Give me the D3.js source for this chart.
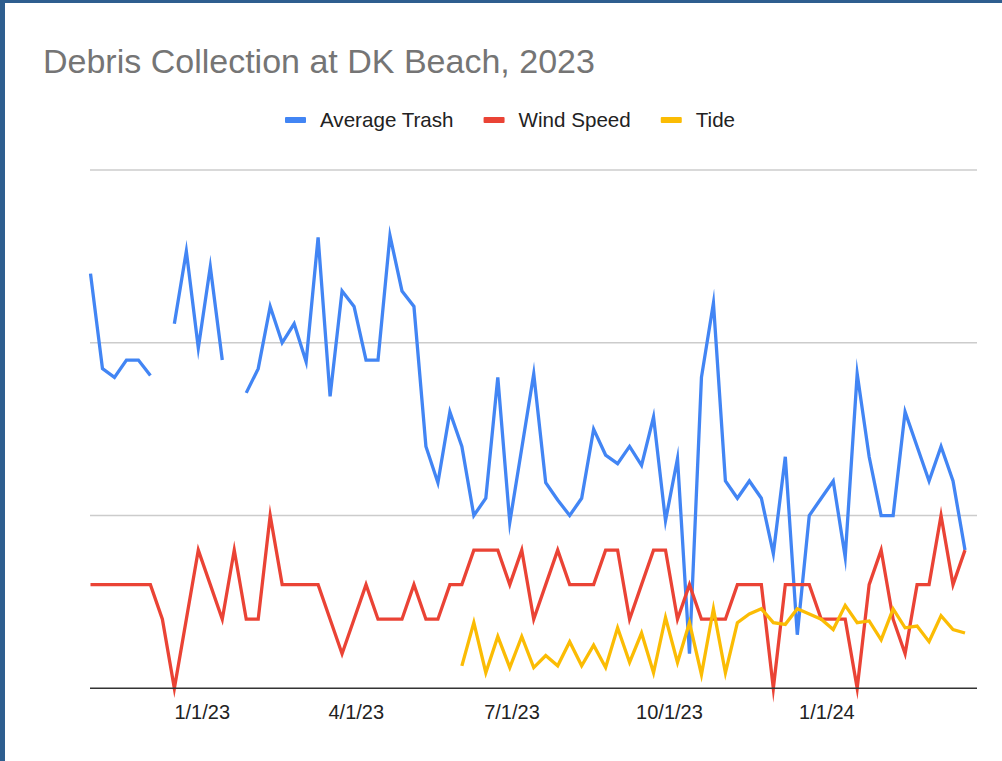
<!DOCTYPE html>
<html>
<head>
<meta charset="utf-8">
<script src="https://cdn.jsdelivr.net/npm/d3@7"></script>
<style>
  html, body { margin: 0; padding: 0; background: #fff; }
  svg { display: block; }
  text { font-family: "Liberation Sans", Arial, sans-serif; }
</style>
</head>
<body>
<svg id="chart" width="1002" height="761"></svg>
<script>
// ---- data ----
const dates = [
  "2022-10-28","2022-11-04","2022-11-11","2022-11-18","2022-11-25","2022-12-02","2022-12-09","2022-12-16",
  "2022-12-23","2022-12-30","2023-01-06","2023-01-13","2023-01-20","2023-01-27","2023-02-03","2023-02-10",
  "2023-02-17","2023-02-24","2023-03-03","2023-03-10","2023-03-17","2023-03-24","2023-03-31","2023-04-07",
  "2023-04-14","2023-04-21","2023-04-28","2023-05-05","2023-05-12","2023-05-19","2023-05-26","2023-06-02",
  "2023-06-09","2023-06-16","2023-06-23","2023-06-30","2023-07-07","2023-07-14","2023-07-21","2023-07-28",
  "2023-08-04","2023-08-11","2023-08-18","2023-08-25","2023-09-01","2023-09-08","2023-09-15","2023-09-22",
  "2023-09-29","2023-10-06","2023-10-13","2023-10-20","2023-10-27","2023-11-03","2023-11-10","2023-11-17",
  "2023-11-24","2023-12-01","2023-12-08","2023-12-15","2023-12-22","2023-12-29","2024-01-05","2024-01-12",
  "2024-01-19","2024-01-26","2024-02-02","2024-02-09","2024-02-16","2024-02-23","2024-03-01","2024-03-08",
  "2024-03-15","2024-03-22"
];

const averageTrash = [
  24.0, 18.5, 18.0, 19.0, 19.0, 18.1, null, 21.1, 25.3, 19.7, 24.4, 19.0, null, 17.1, 18.5, 22.1,
  20.0, 21.1, 18.9, 26.1, 16.9, 23.0, 22.1, 19.0, 19.0, 26.2, 23.0, 22.1, 14.0, 11.9, 16.0, 14.0,
  10.0, 11.0, 18.0, 9.6, 13.9, 18.2, 11.9, 10.9, 10.0, 11.0, 15.0, 13.5, 13.0, 14.0, 12.9, 15.7,
  9.7, 13.3, 2.0, 18.0, 22.3, 12.0, 11.0, 12.0, 11.0, 7.8, 13.4, 3.1, 10.0, 11.0, 12.0, 7.6,
  18.2, 13.4, 10.0, 10.0, 16.0, 14.0, 12.0, 14.0, 12.0, 8.0
];

const windSpeed = [
  6, 6, 6, 6, 6, 6, 4, 0, 4, 8, 6, 4, 8, 4, 4, 10,
  6, 6, 6, 6, 4, 2, 4, 6, 4, 4, 4, 6, 4, 4, 6, 6,
  8, 8, 8, 6, 8, 4, 6, 8, 6, 6, 6, 8, 8, 4, 6, 8,
  8, 4, 6, 4, 4, 4, 6, 6, 6, 0, 6, 6, 6, 4, 4, 4,
  0, 6, 8, 4, 2, 6, 6, 10, 6, 8
];

const tide = [
  null, null, null, null, null, null, null, null, null, null, null, null, null, null, null, null,
  null, null, null, null, null, null, null, null, null, null, null, null, null, null, null, 1.3,
  3.8, 0.9, 3.0, 1.2, 3.0, 1.2, 1.9, 1.3, 2.7, 1.3, 2.5, 1.2, 3.5, 1.5, 3.2, 0.9,
  4.1, 1.5, 3.8, 0.8, 4.6, 0.9, 3.8, 4.3, 4.6, 3.8, 3.7, 4.6, 4.3, 4.0, 3.4, 4.8,
  3.8, 3.9, 2.8, 4.6, 3.5, 3.6, 2.7, 4.2, 3.4, 3.2
];

const tickLabels = ["2023-01-01", "2023-04-01", "2023-07-01", "2023-10-01", "2024-01-01"];
const yGrid = [0, 10, 20, 30];

const seriesNames = ["Average Trash", "Wind Speed", "Tide"];
const seriesColors = ["#4285f4", "#ea4335", "#fbbc04"];

// ---- chart ----
const parse = d3.utcParse("%Y-%m-%d");
const xDates = dates.map(parse);
const svg = d3.select("#chart");

const plotLeft = 90, plotRight = 977;
const x = d3.scaleUtc()
  .domain(d3.extent(xDates))
  .range([90.5, 965]);
const y = d3.scaleLinear().domain([0, 30]).range([688.3, 170]);

// frame borders
svg.append("rect").attr("x", 0).attr("y", 0).attr("width", 1002).attr("height", 761).attr("fill", "#fff");
svg.append("rect").attr("x", 0).attr("y", 0).attr("width", 1002).attr("height", 3).attr("fill", "#2e5e8f");
svg.append("rect").attr("x", 0).attr("y", 0).attr("width", 5).attr("height", 761).attr("fill", "#2e5e8f");

// title
svg.append("text")
  .attr("x", 43).attr("y", 73)
  .attr("font-size", 34)
  .attr("fill", "#757575")
  .text("Debris Collection at DK Beach, 2023");

// legend
const legend = svg.append("g");
let lx = 285;
seriesNames.forEach((name, i) => {
  legend.append("rect")
    .attr("x", lx).attr("y", 117).attr("width", 21).attr("height", 6)
    .attr("rx", 1)
    .attr("fill", seriesColors[i]);
  const t = legend.append("text")
    .attr("x", lx + 35).attr("y", 127)
    .attr("font-size", 20.6)
    .attr("fill", "#222")
    .text(name);
  lx = lx + 35 + t.node().getComputedTextLength() + 30;
});

// gridlines
svg.append("g")
  .selectAll("line")
  .data(yGrid.filter(v => v > 0))
  .join("line")
  .attr("x1", plotLeft).attr("x2", plotRight)
  .attr("y1", d => y(d)).attr("y2", d => y(d))
  .attr("stroke", "#cccccc")
  .attr("stroke-width", 1.6);

// series lines
const allSeries = [averageTrash, windSpeed, tide];
const line = d3.line()
  .defined(d => d.v !== null)
  .x(d => x(d.date))
  .y(d => y(d.v));

allSeries.forEach((vals, i) => {
  const pts = vals.map((v, j) => ({ date: xDates[j], v }));
  svg.append("path")
    .datum(pts)
    .attr("d", line)
    .attr("fill", "none")
    .attr("stroke", seriesColors[i])
    .attr("stroke-width", 3.3)
    .attr("stroke-linejoin", "miter")
    .attr("stroke-miterlimit", 10);
});

// baseline
svg.append("line")
  .attr("x1", plotLeft).attr("x2", plotRight)
  .attr("y1", y(0)).attr("y2", y(0))
  .attr("stroke", "#333333")
  .attr("stroke-width", 1.6);

// x axis labels
const xAxis = d3.axisBottom(x)
  .tickValues(tickLabels.map(parse))
  .tickFormat(d3.utcFormat("%-m/%-d/%y"))
  .tickSize(0)
  .tickPadding(16.8);

const gx = svg.append("g")
  .attr("transform", `translate(0,${y(0)})`)
  .call(xAxis);
gx.select(".domain").remove();
gx.selectAll("text")
  .attr("font-size", 20)
  .attr("fill", "#222")
  .style("font-family", '"Liberation Sans", Arial, sans-serif');
</script>
</body>
</html>
